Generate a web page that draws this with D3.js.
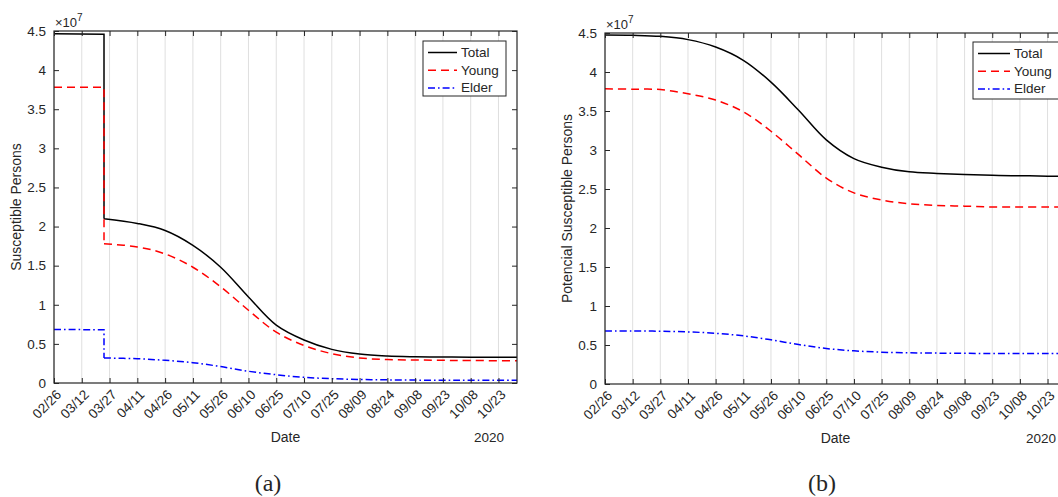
<!DOCTYPE html>
<html>
<head>
<meta charset="utf-8">
<script src="https://cdn.jsdelivr.net/npm/d3@7"></script>
<style>
  html, body { margin: 0; padding: 0; background: #fff; }
  svg { display: block; }
  text { font-family: "Liberation Sans", Arial, Helvetica, sans-serif; fill: #262626; }
</style>
</head>
<body>
<svg id="chart" width="1058" height="497"></svg>
<script>
// ---------------- DATA ----------------
const startDate = "2020-02-26";
const endDate = "2020-11-02";
const tickLabels = ["02/26","03/12","03/27","04/11","04/26","05/11","05/26","06/10","06/25","07/10","07/25","08/09","08/24","09/08","09/23","10/08","10/23"];
const yTickValues = [0, 0.5, 1, 1.5, 2, 2.5, 3, 3.5, 4, 4.5];
const seriesNames = ["Total", "Young", "Elder"];

// Panel (a): values in units of 1e7, day offsets from 02/26
const aPreDays = [0, 27];
const aPreTotal = [4.466, 4.457];
const aPreYoung = [3.78, 3.78];
const aPreElder = [0.685, 0.68];
const aDays  = [27, 45, 60, 75, 90, 105, 120, 135, 150, 165, 180, 195, 210, 225, 250];
const aTotal = [2.10, 2.04, 1.95, 1.76, 1.48, 1.10, 0.74, 0.55, 0.43, 0.37, 0.345, 0.336, 0.332, 0.33, 0.33];
const aYoung = [1.78, 1.74, 1.65, 1.48, 1.23, 0.93, 0.65, 0.48, 0.375, 0.32, 0.30, 0.294, 0.29, 0.287, 0.285];
const aElder = [0.32, 0.31, 0.29, 0.26, 0.21, 0.15, 0.106, 0.072, 0.055, 0.045, 0.04, 0.037, 0.035, 0.034, 0.034];

// Panel (b)
const bDays  = [0, 15, 30, 45, 60, 75, 90, 105, 120, 135, 150, 165, 180, 195, 210, 225, 240, 250];
const bTotal = [4.474, 4.47, 4.457, 4.415, 4.32, 4.15, 3.87, 3.51, 3.13, 2.89, 2.78, 2.72, 2.70, 2.685, 2.675, 2.67, 2.665, 2.66];
const bYoung = [3.784, 3.78, 3.775, 3.72, 3.64, 3.49, 3.24, 2.94, 2.64, 2.45, 2.36, 2.31, 2.29, 2.28, 2.27, 2.27, 2.268, 2.268];
const bElder = [0.68, 0.68, 0.677, 0.668, 0.65, 0.617, 0.566, 0.506, 0.455, 0.425, 0.408, 0.40, 0.396, 0.393, 0.392, 0.392, 0.392, 0.392];

// ---------------- DRAW ----------------
const svg = d3.select("#chart");
const parse = d3.utcParse("%Y-%m-%d");
const d0 = parse(startDate);
const dayToDate = d => new Date(d0.getTime() + d * 86400000);

const styles = {
  Total: { color: "#000000", dash: null },
  Young: { color: "#ff0000", dash: "8,5" },
  Elder: { color: "#0000ff", dash: "7,3,1.6,3" }
};
const axisColor = "#262626";

function drawPanel(p) {
  const g = svg.append("g");
  const x = d3.scaleUtc().domain([d0, parse(endDate)]).range([p.left, p.right]);
  const y = d3.scaleLinear().domain([0, 4.5]).range([p.bottom, p.top]);
  const tickDates = tickLabels.map((t, i) => dayToDate(i * 15));

  // grid
  g.append("g").selectAll("line").data(tickDates).join("line")
    .attr("x1", d => x(d)).attr("x2", d => x(d))
    .attr("y1", p.top).attr("y2", p.bottom)
    .attr("stroke", "#dfdfdf").attr("stroke-width", 1);

  // series
  const line = d3.line().x(d => x(dayToDate(d[0]))).y(d => y(d[1]));
  const lineSmooth = d3.line().curve(d3.curveCatmullRom.alpha(0.5)).x(d => x(dayToDate(d[0]))).y(d => y(d[1]));
  const clipId = "clip" + p.id;
  svg.append("clipPath").attr("id", clipId).append("rect")
    .attr("x", p.left).attr("y", p.top - 2).attr("width", p.right - p.left).attr("height", p.bottom - p.top + 2);
  const sg = g.append("g").attr("clip-path", `url(#${clipId})`);
  p.series.forEach(s => {
    const st = styles[s.name];
    let dstr = "";
    if (s.pre) {
      const prePts = s.pre.days.map((d, i) => [d, s.pre.vals[i]]);
      prePts.push([s.days[0], s.vals[0]]);
      dstr += line(prePts);
    }
    const pts = s.days.map((d, i) => [d, s.vals[i]]);
    dstr += lineSmooth(pts);
    sg.append("path").attr("d", dstr)
      .attr("fill", "none").attr("stroke", st.color).attr("stroke-width", 1.5)
      .attr("stroke-dasharray", st.dash);
  });

  // axes box
  const ax = g.append("g");
  ax.append("rect").attr("x", p.left).attr("y", p.top)
    .attr("width", p.right - p.left).attr("height", p.bottom - p.top)
    .attr("fill", "none").attr("stroke", axisColor).attr("stroke-width", 1.2);

  const tickLen = 5;
  const xb = d3.axisBottom(x).tickValues(tickDates).tickSize(-tickLen).tickFormat((d, i) => tickLabels[i]);
  const xAxisG = g.append("g").attr("transform", `translate(0,${p.bottom})`).call(xb);
  xAxisG.select(".domain").remove();
  xAxisG.selectAll(".tick line").attr("stroke", axisColor);
  xAxisG.selectAll(".tick text")
    .attr("font-size", 13.5).attr("fill", axisColor)
    .attr("text-anchor", "end")
    .attr("dy", null).attr("y", null)
    .attr("transform", "translate(5,10) rotate(-45)")
    .attr("dominant-baseline", "middle");
  const xt = d3.axisTop(x).tickValues(tickDates).tickSize(-tickLen).tickFormat("");
  const xtG = g.append("g").attr("transform", `translate(0,${p.top})`).call(xt);
  xtG.select(".domain").remove();
  xtG.selectAll(".tick line").attr("stroke", axisColor);

  const yl = d3.axisLeft(y).tickValues(yTickValues).tickSize(-tickLen).tickPadding(8).tickFormat(d3.format("~g"));
  const ylG = g.append("g").attr("transform", `translate(${p.left},0)`).call(yl);
  ylG.select(".domain").remove();
  ylG.selectAll(".tick line").attr("stroke", axisColor);
  ylG.selectAll(".tick text").attr("font-size", 13.5).attr("fill", axisColor);
  const yr = d3.axisRight(y).tickValues(yTickValues).tickSize(-tickLen).tickFormat("");
  const yrG = g.append("g").attr("transform", `translate(${p.right},0)`).call(yr);
  yrG.select(".domain").remove();
  yrG.selectAll(".tick line").attr("stroke", axisColor);

  // exponent
  const ex = g.append("text").attr("x", p.left + 1).attr("y", p.top - 4).attr("font-size", 13);
  ex.append("tspan").text("×10");
  ex.append("tspan").attr("font-size", 10).attr("dy", -6).text("7");

  // y label
  g.append("text")
    .attr("transform", `translate(${p.ylabelX},${(p.top + p.bottom) / 2}) rotate(-90)`)
    .attr("text-anchor", "middle").attr("dominant-baseline", "middle")
    .attr("font-size", 14).text(p.ylabel);

  // x label & year
  g.append("text").attr("x", (p.left + p.right) / 2).attr("y", p.bottom + 59)
    .attr("text-anchor", "middle").attr("font-size", 14).text("Date");
  g.append("text").attr("x", p.yearX).attr("y", p.bottom + 59)
    .attr("text-anchor", "end").attr("font-size", 13.5).text("2020");

  // legend
  const lg = g.append("g");
  lg.append("rect").attr("x", p.leg.x).attr("y", p.leg.y).attr("width", p.leg.w).attr("height", p.leg.h)
    .attr("fill", "#fff").attr("stroke", axisColor).attr("stroke-width", 1);
  seriesNames.forEach((n, i) => {
    const yy = p.leg.y + 11.5 + i * 17.7;
    lg.append("line").attr("x1", p.leg.x + 5).attr("x2", p.leg.x + 5 + p.leg.lineLen)
      .attr("y1", yy).attr("y2", yy)
      .attr("stroke", styles[n].color).attr("stroke-width", 1.5)
      .attr("stroke-dasharray", styles[n].dash);
    lg.append("text").attr("x", p.leg.x + 9 + p.leg.lineLen).attr("y", yy)
      .attr("dominant-baseline", "central").attr("font-size", 13.5).attr("fill", "#000").text(n);
  });

  // caption
  g.append("text").attr("x", p.capX).attr("y", 491)
    .attr("text-anchor", "middle").attr("font-size", 24)
    .style("font-family", "'Liberation Serif', 'DejaVu Serif', serif")
    .attr("fill", "#000").text(p.caption);
}

drawPanel({
  id: "a", left: 54, right: 517, top: 31, bottom: 383,
  ylabel: "Susceptible Persons", ylabelX: 17, yearX: 504, capX: 268, caption: "(a)",
  leg: { x: 423, y: 41, w: 83, h: 55, lineLen: 29 },
  series: [
    { name: "Total", pre: { days: aPreDays, vals: aPreTotal }, days: aDays, vals: aTotal },
    { name: "Young", pre: { days: aPreDays, vals: aPreYoung }, days: aDays, vals: aYoung },
    { name: "Elder", pre: { days: aPreDays, vals: aPreElder }, days: aDays, vals: aElder }
  ]
});

drawPanel({
  id: "b", left: 605, right: 1066, top: 33, bottom: 384,
  ylabel: "Potencial Susceptible Persons", ylabelX: 568, yearX: 1056, capX: 822, caption: "(b)",
  leg: { x: 973, y: 42, w: 88, h: 57, lineLen: 32 },
  series: [
    { name: "Total", days: bDays, vals: bTotal },
    { name: "Young", days: bDays, vals: bYoung },
    { name: "Elder", days: bDays, vals: bElder }
  ]
});
</script>
</body>
</html>
